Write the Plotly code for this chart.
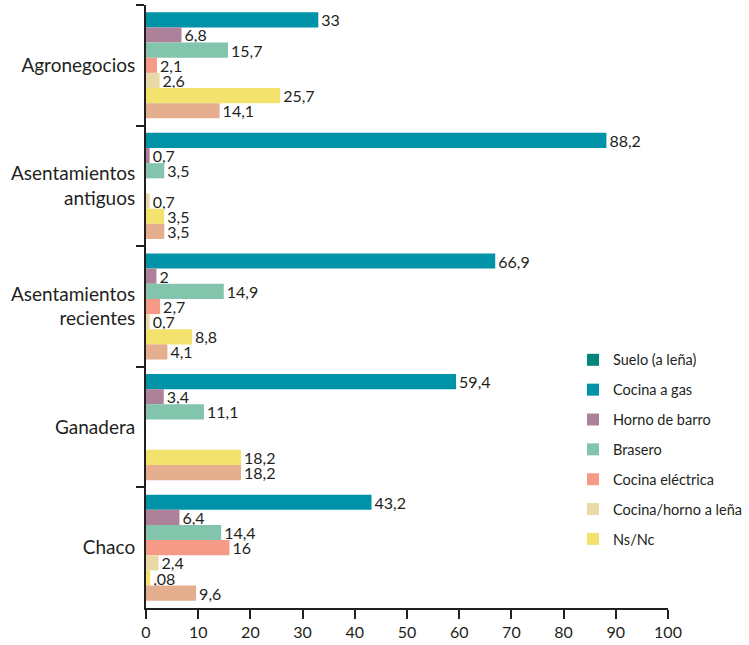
import plotly.graph_objects as go

categories = ["Agronegocios", "Asentamientos<br>antiguos", "Asentamientos<br>recientes", "Ganadera", "Chaco"]

cocina_gas = [33, 88.2, 66.9, 59.4, 43.2]
horno_barro = [6.8, 0.7, 2, 3.4, 6.4]
brasero = [15.7, 3.5, 14.9, 11.1, 14.4]
cocina_electrica = [2.1, None, 2.7, None, 16]
cocina_horno_lena = [2.6, 0.7, 0.7, None, 2.4]
ns_nc = [25.7, 3.5, 8.8, 18.2, 0.8]
otro = [14.1, 3.5, 4.1, 18.2, 9.6]

series = [
    ("Cocina a gas", cocina_gas, "#0092A6", True),
    ("Horno de barro", horno_barro, "#AD8199", True),
    ("Brasero", brasero, "#82C4AC", True),
    ("Cocina eléctrica", cocina_electrica, "#F59A86", True),
    ("Cocina/horno a leña", cocina_horno_lena, "#E8D9A7", True),
    ("Ns/Nc", ns_nc, "#F3E36E", True),
    ("Otro", otro, "#E5AE8E", False),
]

def fmt(v):
    if v is None:
        return ""
    if v == 0.8:
        return ",08"
    return ("%g" % v).replace(".", ",")

FONT = "Lato"
TXT = "#231F20"

fig = go.Figure()
# legend-only entry for "Suelo (a leña)"
fig.add_trace(go.Scatter(
    x=[None], y=[categories[0]], mode="markers", name="Suelo (a leña)",
    marker=dict(symbol="square", size=14, color="#00877A"),
    legendgroup="g0", showlegend=True, hoverinfo="skip"))

for i, (name, vals, color, show) in enumerate(series):
    fig.add_trace(go.Bar(
        y=categories, x=vals, orientation="h", name=name,
        marker=dict(color=color, line=dict(width=0)),
        text=[fmt(v) for v in vals], textposition="outside",
        textfont=dict(family=FONT, size=16, color=TXT),
        constraintext="none", cliponaxis=False,
        legendgroup="g%d" % (i + 1), showlegend=show))

fig.update_layout(
    width=749, height=645,
    margin=dict(l=146, r=81, t=5, b=37, autoexpand=False),
    paper_bgcolor="white", plot_bgcolor="white",
    barmode="group", bargap=0.12, bargroupgap=0,
    font=dict(family=FONT, size=16, color=TXT),
    showlegend=True,
    legend=dict(x=0.818, y=0.438, xanchor="left", yanchor="top",
                traceorder="grouped", tracegroupgap=8,
                font=dict(family=FONT, size=14.5, color=TXT),
                bgcolor="rgba(0,0,0,0)", itemsizing="constant"),
    xaxis=dict(range=[0, 100], tickvals=[0,10,20,30,40,50,60,70,80,90,100],
               showgrid=False, zeroline=False, showline=True, linecolor=TXT, linewidth=2,
               ticks="outside", ticklen=9, tickwidth=2, tickcolor=TXT, automargin=False,
               tickfont=dict(family=FONT, size=16, color=TXT)),
    yaxis=dict(type="category", categoryorder="array", categoryarray=categories,
               autorange="reversed", showgrid=False, zeroline=False,
               showline=True, linecolor=TXT, linewidth=2, automargin=False,
               ticks="outside", tickson="boundaries", ticklen=8, tickwidth=2, tickcolor=TXT,
               ticklabelstandoff=5,
               tickfont=dict(family=FONT, size=19, color=TXT)),
)

fig.write_html("out.html", config={"displayModeBar": False},
               post_script="document.body.style.margin='0';document.body.style.padding='0';")
